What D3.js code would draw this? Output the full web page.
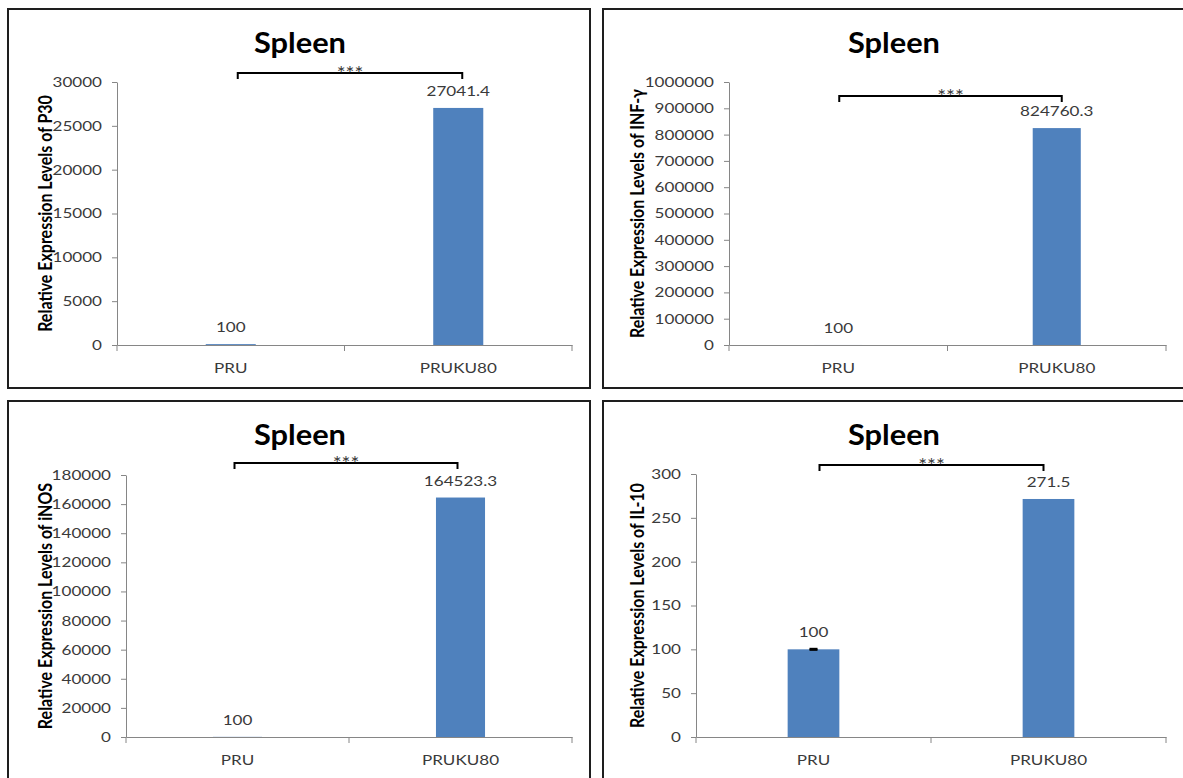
<!DOCTYPE html>
<html><head><meta charset="utf-8">
<script src="https://cdn.jsdelivr.net/npm/d3@7"></script>
<style>
body{margin:0;background:#fff}
svg{display:block}
text{font-family:Lato,"Open Sans",sans-serif}
</style>
</head><body>
<svg id="c" width="1183" height="778"></svg>
<script>
// ---------- data ----------
const categories = ["PRU", "PRUKU80"];
const chartTitle = "Spleen";
const sigLabel = "***";

const p30Values  = [100, 27041.4];
const infValues  = [100, 824760.3];
const inosValues = [100, 164523.3];
const il10Values = [100, 271.5];
const il10Errors = [0.6, 0];

const p30Ticks  = [0, 5000, 10000, 15000, 20000, 25000, 30000];
const infTicks  = [0, 100000, 200000, 300000, 400000, 500000, 600000, 700000, 800000, 900000, 1000000];
const inosTicks = [0, 20000, 40000, 60000, 80000, 100000, 120000, 140000, 160000, 180000];
const il10Ticks = [0, 50, 100, 150, 200, 250, 300];

const p30Title  = "Relative Expression Levels of P30";
const infTitle  = "Relative Expression Levels of INF-\u03b3";
const inosTitle = "Relative Expression Levels of iNOS";
const il10Title = "Relative Expression Levels of IL-10";

// ---------- layout ----------
const SX = 1.22;           // horizontal stretch of the original picture's text
const TSX = 1.1;           // stretch for the title
const barColor = "#4F81BD";
const axisColor = "#868686";
const textColor = "#3a3a3a";

const panels = [
  {values: p30Values, errors: null, ticks: p30Ticks, yTitle: p30Title,
   box: [8, 9, 582, 379], plot: {l: 117, r: 572, t: 82, b: 345},
   titleX: 300, titleY: 53, yTitleX: 52, bracketY: 73, bracketDx: [7, 4]},
  {values: infValues, errors: null, ticks: infTicks, yTitle: infTitle,
   box: [603, 9, 700, 379], plot: {l: 729, r: 1166, t: 82, b: 345},
   titleX: 894, titleY: 53, yTitleX: 644, bracketY: 96, bracketDx: [1, 5]},
  {values: inosValues, errors: null, ticks: inosTicks, yTitle: inosTitle,
   box: [8, 401, 582, 500], plot: {l: 126, r: 572, t: 475, b: 737},
   titleX: 300, titleY: 445, yTitleX: 52, bracketY: 463, bracketDx: [-3, -3]},
  {values: il10Values, errors: il10Errors, ticks: il10Ticks, yTitle: il10Title,
   box: [603, 401, 700, 500], plot: {l: 696, r: 1166, t: 474, b: 737},
   titleX: 894, titleY: 445, yTitleX: 644, bracketY: 465, bracketDx: [6, -5]}
];

const svg = d3.select("#c");

panels.forEach(p => {
  const g = svg.append("g");
  // frame
  g.append("rect")
    .attr("x", p.box[0]).attr("y", p.box[1])
    .attr("width", p.box[2]).attr("height", p.box[3])
    .attr("fill", "none").attr("stroke", "#1e1e1e").attr("stroke-width", 2);

  const x = d3.scaleBand().domain(categories).range([p.plot.l, p.plot.r]).padding(0);
  const y = d3.scaleLinear().domain([0, d3.max(p.ticks)]).range([p.plot.b, p.plot.t]);

  // title
  g.append("text")
    .attr("transform", `translate(${p.titleX},${p.titleY}) scale(${TSX},1)`)
    .attr("text-anchor", "middle")
    .attr("font-size", 28).attr("font-weight", 700).attr("fill", "#000")
    .text(chartTitle);

  // y axis
  const ya = g.append("g")
    .attr("transform", `translate(${p.plot.l},0)`)
    .call(d3.axisLeft(y).tickValues(p.ticks).tickSize(5).tickSizeOuter(0).tickFormat(d3.format("d")));
  ya.select(".domain").attr("stroke", axisColor);
  ya.selectAll(".tick line").attr("stroke", axisColor);
  ya.selectAll(".tick text")
    .attr("x", -15 / SX)
    .attr("transform", `scale(${SX},1)`)
    .attr("font-family", "Lato, 'Open Sans', sans-serif")
    .attr("font-size", 14).attr("fill", textColor);

  // x axis
  const xa = g.append("g")
    .attr("transform", `translate(0,${p.plot.b})`)
    .call(d3.axisBottom(x).tickSize(0).tickSizeOuter(0));
  xa.select(".domain").attr("stroke", axisColor);
  xa.selectAll(".tick text")
    .attr("y", 0).attr("dy", 0)
    .attr("transform", `translate(0,28) scale(${SX},1)`)
    .attr("font-family", "Lato, 'Open Sans', sans-serif")
    .attr("font-size", 14).attr("fill", textColor);
  // category boundary ticks
  const bounds = categories.map(c => x(c)).concat([x(categories[categories.length - 1]) + x.bandwidth()]);
  g.selectAll(".btick").data(bounds).join("line")
    .attr("x1", d => d).attr("x2", d => d)
    .attr("y1", p.plot.b).attr("y2", p.plot.b + 6)
    .attr("stroke", axisColor);

  // bars
  const bw = x.bandwidth() * 0.22;
  const data = categories.map((c, i) => ({c, v: p.values[i], e: p.errors ? p.errors[i] : 0}));
  g.selectAll(".bar").data(data).join("rect")
    .attr("x", d => x(d.c) + x.bandwidth() / 2 - bw / 2)
    .attr("width", bw)
    .attr("y", d => y(d.v))
    .attr("height", d => y(0) - y(d.v))
    .attr("fill", barColor);

  // error bars
  data.filter(d => d.e > 0).forEach(d => {
    const cx = x(d.c) + x.bandwidth() / 2;
    g.append("line").attr("x1", cx).attr("x2", cx)
      .attr("y1", y(d.v - d.e)).attr("y2", y(d.v + d.e))
      .attr("stroke", "#000").attr("stroke-width", 1);
    [d.v - d.e, d.v + d.e].forEach(v => {
      g.append("line").attr("x1", cx - 4).attr("x2", cx + 4)
        .attr("y1", y(v)).attr("y2", y(v))
        .attr("stroke", "#000").attr("stroke-width", 2);
    });
  });

  // value labels
  g.selectAll(".val").data(data).join("text")
    .attr("transform", d => `translate(${x(d.c) + x.bandwidth() / 2},${y(d.v + d.e) - 12}) scale(${SX},1)`)
    .attr("text-anchor", "middle")
    .attr("font-size", 14).attr("fill", textColor)
    .text(d => d3.format("")(d.v));

  // significance bracket
  const x1 = x(categories[0]) + x.bandwidth() / 2 + p.bracketDx[0];
  const x2 = x(categories[1]) + x.bandwidth() / 2 + p.bracketDx[1];
  g.append("path")
    .attr("d", `M${x1},${p.bracketY + 6}V${p.bracketY}H${x2}V${p.bracketY + 6}`)
    .attr("fill", "none").attr("stroke", "#000").attr("stroke-width", 2);
  g.append("text")
    .attr("transform", `translate(${(x1 + x2) / 2},${p.bracketY + 7}) scale(1.1,1)`)
    .attr("text-anchor", "middle")
    .attr("font-family", "'DejaVu Sans', sans-serif")
    .attr("font-size", 19).attr("fill", textColor)
    .text(sigLabel);

  // y title
  g.append("text")
    .attr("transform", `translate(${p.yTitleX},${(p.plot.t + p.plot.b) / 2}) scale(${SX},1) rotate(-90)`)
    .attr("text-anchor", "middle")
    .attr("font-size", 16).attr("font-weight", 700).attr("fill", "#000")
    .text(p.yTitle);
});
</script>
</body></html>
